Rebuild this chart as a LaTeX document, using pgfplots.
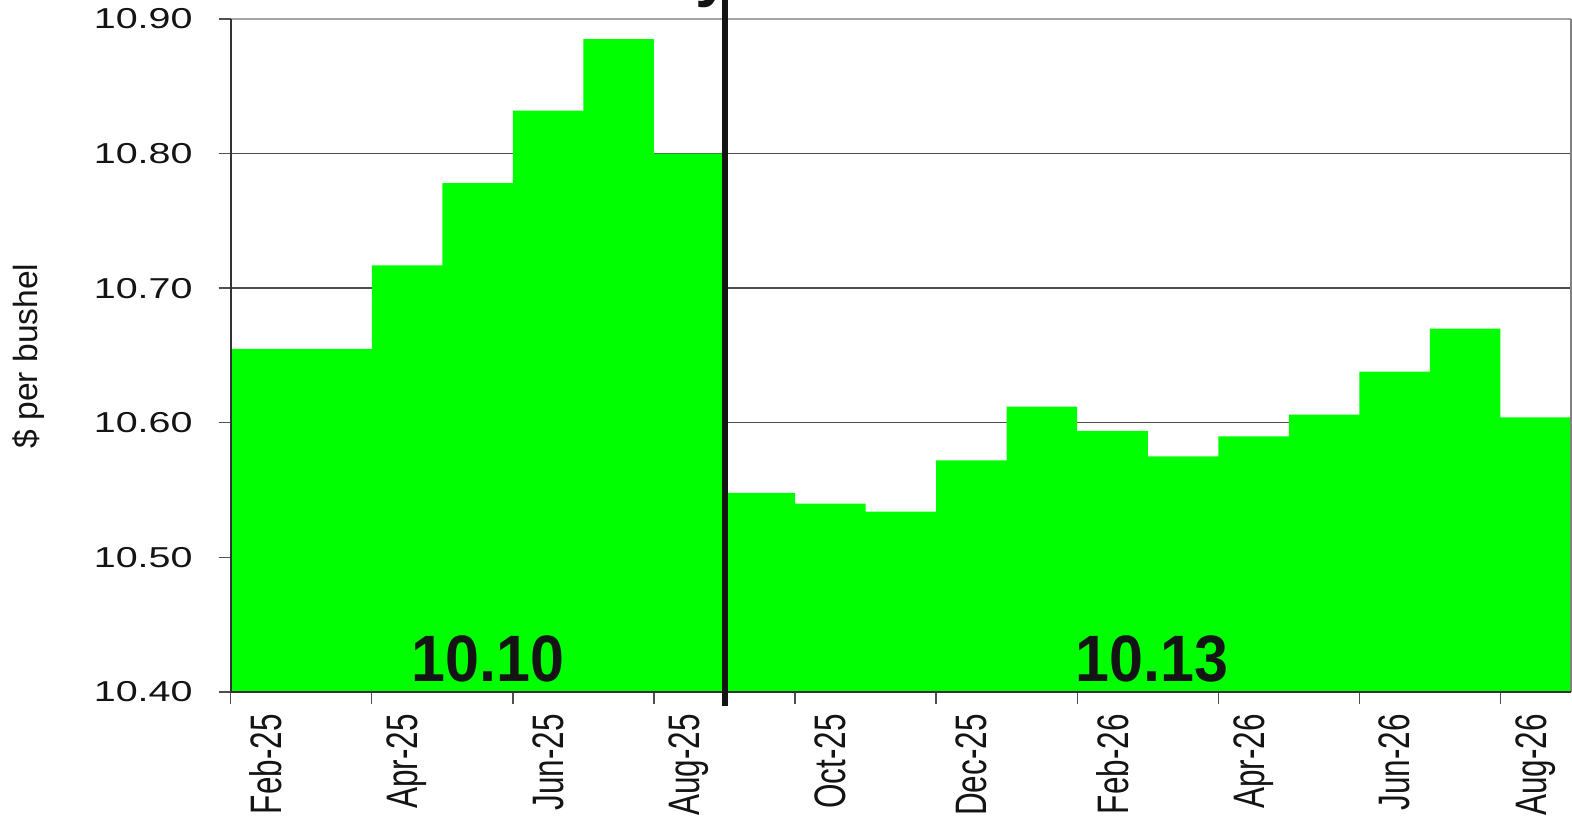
\documentclass[border=0pt]{standalone}
\usepackage{graphicx}
\usepackage{pgfplots}
\pgfplotsset{compat=1.18}
\usepackage{fontspec}
\setmainfont{Liberation Sans}
\definecolor{bargreen}{HTML}{00FF00}
\definecolor{gridc}{HTML}{4F4F4F}
\definecolor{inkc}{HTML}{141414}
\newcommand{\yl}[1]{\scalebox{1.37}[1]{#1}}
\newcommand{\xl}[1]{\scalebox{1}[1.4]{#1}}
\begin{document}
\begin{tikzpicture}
\begin{axis}[
  scale only axis, width=670.15pt, height=336.5pt,
  xmin=0, xmax=19, ymin=10.4, ymax=10.9,
  clip=false,
  axis line style={draw=none},
  xtick pos=bottom, ytick pos=left,
  ytick={10.4,10.5,10.6,10.7,10.8,10.9},
  yticklabels={\yl{10.40},\yl{10.50},\yl{10.60},\yl{10.70},\yl{10.80},\yl{10.90}},
  ymajorgrids,
  major grid style={gridc, line width=0.7pt},
  xtick={0,2,4,6,8,10,12,14,16,18},
  xticklabels={\xl{Feb-25},\xl{Apr-25},\xl{Jun-25},\xl{Aug-25},\xl{Oct-25},\xl{Dec-25},\xl{Feb-26},\xl{Apr-26},\xl{Jun-26},\xl{Aug-26}},
  tick align=outside,
  x tick style={gridc, line width=0.7pt},
  y tick style={gridc, line width=0.7pt},
  major tick length=6pt,
  xticklabel style={xshift=17.6pt, rotate=90, anchor=east, inner sep=0pt, text=inkc, font=\fontsize{15.75}{16}\selectfont},
  yticklabel style={anchor=east, inner sep=0pt, text=inkc, font=\fontsize{14.4}{15}\selectfont},
  xticklabel shift=5pt,
  yticklabel shift=12.85pt,
]
\addplot[const plot, fill=bargreen, draw=none] coordinates {
  (0,10.4)
  (0,10.655) (1,10.655) (2,10.717) (3,10.778) (4,10.832) (5,10.885)
  (6,10.800) (7,10.548) (8,10.540) (9,10.534) (10,10.572) (11,10.612)
  (12,10.594) (13,10.575) (14,10.590) (15,10.606) (16,10.638) (17,10.670)
  (18,10.604) (19,10.604)
  (19,10.4)
};
% frame
\draw[color=black!35, line width=0.7pt] (axis cs:0,10.9) -- (axis cs:19,10.9);
\draw[color=black!50, line width=0.7pt] (axis cs:19,10.9) -- (axis cs:19,10.4);
\draw[color=black!80, line width=0.9pt] (axis cs:0,10.9) -- (axis cs:0,10.4) -- (axis cs:19,10.4);
% divider
\draw[color=inkc, line width=3pt] ([yshift=-7pt]axis cs:7,10.4) -- ([yshift=14pt]axis cs:7,10.9);
% averages
\node[anchor=base, text=inkc, font=\bfseries\fontsize{32.8}{33}\selectfont] at ([yshift=5pt]axis cs:3.65,10.4) {\scalebox{0.93}[1]{10.10}};
\node[anchor=base, text=inkc, font=\bfseries\fontsize{32.8}{33}\selectfont] at ([yshift=5pt]axis cs:13.06,10.4) {\scalebox{0.93}[1]{10.13}};
% cropped title glyph
\node[anchor=base, text=inkc, font=\bfseries\fontsize{32}{32}\selectfont] at ([yshift=12pt]axis cs:6.84,10.9) {y};
\end{axis}
\node[rotate=90, text=inkc, font=\fontsize{16.8}{17}\selectfont] at (-100.85pt,168pt) {\$ per bushel};
\pgfresetboundingbox
\useasboundingbox (-115.35pt,-65pt) rectangle (670.65pt,346pt);
\end{tikzpicture}
\end{document}
